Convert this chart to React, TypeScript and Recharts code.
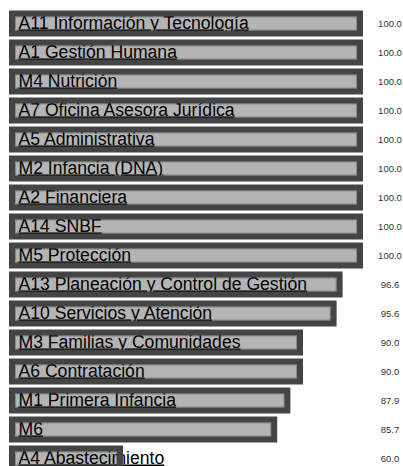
import React from "react";
import { BarChart, Bar, XAxis, YAxis } from "recharts";

const categories = [
  "A11 Información y Tecnología",
  "A1 Gestión Humana",
  "M4 Nutrición",
  "A7 Oficina Asesora Jurídica",
  "A5 Administrativa",
  "M2 Infancia (DNA)",
  "A2 Financiera",
  "A14 SNBF",
  "M5 Protección",
  "A13 Planeación y Control de Gestión",
  "A10 Servicios y Atención",
  "M3 Familias y Comunidades",
  "A6 Contratación",
  "M1 Primera Infancia",
  "M6",
  "A4 Abastecimiento",
];

const scores = [100, 100, 100, 100, 100, 100, 100, 100, 100, 96.6, 95.6, 90.0, 90.0, 87.9, 85.7, 60.0];

const data = categories.map((name, i) => ({ name, value: scores[i] }));
const valueByName: Record<string, number> = {};
data.forEach((d) => (valueByName[d.name] = d.value));

const FONT = "'Liberation Sans', Arial, sans-serif";

const BarShape = (props: any) => {
  const { x, y, width, height, payload } = props;
  return (
    <g>
      <rect x={x} y={y} width={width} height={height} fill="#b4b4b4" />
      <rect
        x={x + 3.5}
        y={y + 3.5}
        width={Math.max(0, width - 7)}
        height={Math.max(0, height - 7)}
        fill="none"
        stroke="#8a8a8a"
        strokeWidth={1}
      />
      <text
        x={x + 6.5}
        y={y + height / 2 + 5}
        fontFamily={FONT}
        fontSize={17.6}
        fill="#000"
        textDecoration="underline"
        style={{ textDecoration: "underline" }}
      >
        {payload.name}
      </text>
      <rect x={x} y={y} width={width} height={height} fill="none" stroke="#444444" strokeWidth={6} />
    </g>
  );
};

const ValueTick = (props: any) => {
  const { x, y, payload } = props;
  const v = valueByName[payload.value];
  return (
    <text
      x={x + 30}
      y={y}
      dy={3.5}
      textAnchor="middle"
      fontFamily={FONT}
      fontSize={9.5}
      fill="#333"
    >
      {v.toFixed(1)}
    </text>
  );
};

export default function App() {
  return (
    <div style={{ position: "absolute", left: 0, top: 0, width: 403, height: 466, overflow: "hidden", background: "#fff" }}>
      <BarChart
        width={403}
        height={480}
        data={data}
        layout="vertical"
        margin={{ top: 8.5, right: 0, bottom: 7.5, left: 12 }}
      >
        <XAxis type="number" domain={[42, 100]} hide />
        <YAxis type="category" dataKey="name" yAxisId="left" hide />
        <YAxis
          type="category"
          dataKey="name"
          yAxisId="right"
          orientation="right"
          width={43}
          axisLine={false}
          tickLine={false}
          tickSize={0}
          tickMargin={0}
          tick={<ValueTick />}
          interval={0}
        />
        <Bar dataKey="value" yAxisId="left" barSize={20} shape={<BarShape />} isAnimationActive={false} />
      </BarChart>
    </div>
  );
}
